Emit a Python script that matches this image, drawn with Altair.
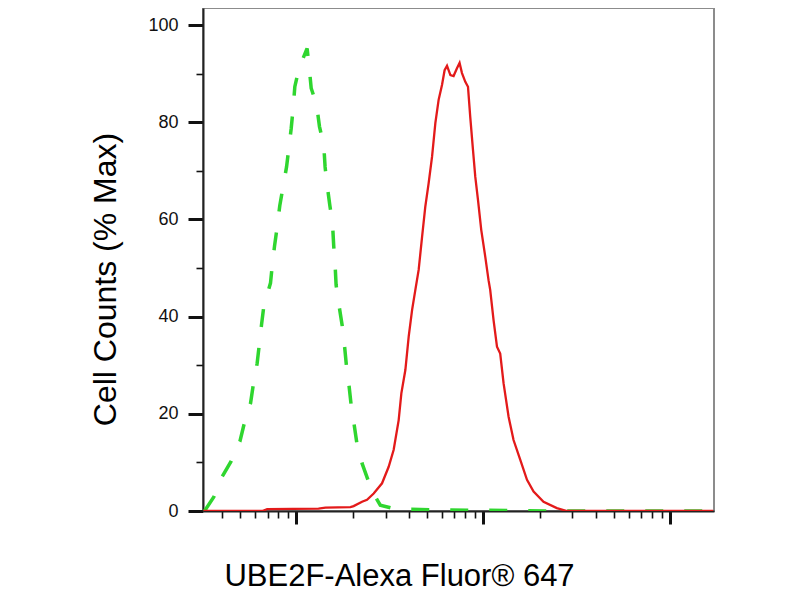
import altair as alt
import pandas as pd

# Fluorescence intensity (log axis) and % of max counts
GREEN_X = [32.2, 36.1, 40.1, 44.8, 49.8, 52.3, 56.8, 58.7, 61.6, 65.0, 66.8, 72.6,
           74.1, 76.3, 78.8, 81.4, 84.5, 88.5, 91.0, 93.7, 96.0, 98.0, 102.9, 114.0,
           116.9, 119.9, 128.0, 132.8, 140.0, 142.3, 145.9, 150.7, 155.9, 158.3, 161.0,
           163.0, 168.3, 175.5, 180.6, 185.0, 190.5, 196.2, 202.5, 211.2, 224.5, 243.6,
           264.5, 281, 338, 667, 2570, 17000]
GREEN_Y = [0, 2.9, 7.1, 10.3, 14.3, 17.7, 22.2, 25.9, 30.4, 38.3, 42.0, 46.9,
           50.3, 54.5, 58.4, 62.8, 66.4, 70.8, 74.6, 78.7, 82.9, 87.3, 90.9, 95.2,
           91.4, 87.0, 83.7, 79.1, 75.3, 70.8, 67.1, 63.0, 59.2, 54.5, 50.6,
           46.5, 42.7, 38.3, 34.2, 30.0, 26.3, 21.8, 18.4, 13.6, 9.8, 6.0,
           2.9, 1.2, 0.4, 0.2, 0, 0]

RED_X = [31.8, 65.8, 69.7, 131.2, 142.9, 194.5, 202.3, 224.4, 238.6, 259.0, 287.1,
         311.6, 331.4, 352.5, 364.3, 382.7, 398.8, 415.9, 432.9, 450.9, 470.3, 489.2,
         509.8, 531.9, 553.9, 576.7, 601.6, 620.8, 639.6, 666.7, 693.4, 723.1, 746.6,
         769.1, 801.3, 828.2, 851.5, 880.8, 905.9, 936.8, 975.6, 1025, 1067, 1089,
         1135, 1184, 1232, 1284, 1366, 1452, 1578, 1714, 1859, 2101, 2477, 2804, 17000]
RED_Y = [0, 0, 0.4, 0.5, 0.7, 0.8, 1.0, 1.9, 2.3, 3.6, 5.7,
         9.1, 12.6, 18.7, 24.2, 29.0, 35.9, 41.4, 45.5, 49.6, 56.4, 62.6,
         67.4, 72.9, 79.8, 84.6, 87.7, 90.7, 91.6, 89.7, 89.5, 91.1, 92.2,
         90.1, 88.3, 87.3, 81.1, 74.3, 68.8, 64.0, 57.8, 52.3, 47.5, 45.5,
         39.3, 33.8, 32.4, 26.3, 19.4, 14.6, 10.5, 6.4, 4.0, 1.9, 0.6, 0, 0]

X_TICKS = [40, 50, 60, 70, 80, 90,
           100, 200, 300, 400, 500, 600, 700, 800, 900,
           1000, 2000, 3000, 4000, 5000, 6000, 7000, 8000, 9000, 10000]
Y_TICKS = [0, 5, 10, 15, 20, 25, 30, 35, 40, 45, 50,
           55, 60, 65, 70, 75, 80, 85, 90, 95, 100]

X_TITLE = "UBE2F-Alexa Fluor® 647"
Y_TITLE = "Cell Counts (% Max)"

green = pd.DataFrame({"x": GREEN_X, "y": GREEN_Y})
red = pd.DataFrame({"x": RED_X, "y": RED_Y})

x_major = "indexof([100, 1000, 10000], datum.value) >= 0"
y_major = "datum.value % 20 === 0"

x_axis = alt.Axis(
    values=X_TICKS, labels=False, grid=False,
    domainColor="#222222", domainWidth=2, tickColor="#111111",
    tickSize={"condition": {"test": x_major, "value": 13}, "value": 7},
    tickWidth={"condition": {"test": x_major, "value": 3}, "value": 1.6},
    title=X_TITLE, titleFont="Liberation Sans", titleFontSize=31,
    titleFontWeight="normal", titleColor="#000000",
    titleX=196, titleY=74, titleAlign="center", titleBaseline="alphabetic")

y_axis = alt.Axis(
    values=Y_TICKS, grid=False, labelOverlap=False, labelFlush=False,
    labelExpr="datum.value % 20 === 0 ? datum.label : ''",
    domainColor="#222222", domainWidth=2, tickColor="#111111",
    tickSize={"condition": {"test": y_major, "value": 15}, "value": 7},
    tickWidth={"condition": {"test": y_major, "value": 3}, "value": 1.6},
    labelFont="'Liberation Sans Narrow', 'Liberation Sans'", labelFontSize=18,
    labelColor="#111111", labelPadding=10,
    title=Y_TITLE, titleFont="Liberation Sans", titleFontSize=32,
    titleFontWeight="normal", titleColor="#000000", titleAngle=270,
    titleX=-88, titleY=271, titleAlign="center", titleBaseline="alphabetic")

x_scale = alt.Scale(type="log", domain=[31.6, 17180], nice=False)
y_scale = alt.Scale(domain=[0, 103.5], nice=False, zero=False)

green_line = (alt.Chart(green)
              .mark_line(color="#2fd62f", strokeWidth=3.5, strokeDash=[18, 21], clip=True)
              .encode(x=alt.X("x:Q", scale=x_scale, axis=x_axis),
                      y=alt.Y("y:Q", scale=y_scale, axis=y_axis)))

red_line = (alt.Chart(red)
            .mark_line(color="#e31a1a", strokeWidth=2.3, clip=True)
            .encode(x=alt.X("x:Q", scale=x_scale), y=alt.Y("y:Q", scale=y_scale)))

chart = (alt.layer(green_line, red_line)
         .properties(width=511, height=503, background="white",
                     autosize=alt.AutoSizeParams(type="none"),
                     padding={"left": 195, "top": 0, "right": 78, "bottom": 81})
         .configure_view(stroke="#8c8c8c", strokeWidth=2))

chart.save("out.html", embed_options={"renderer": "svg", "actions": False})
